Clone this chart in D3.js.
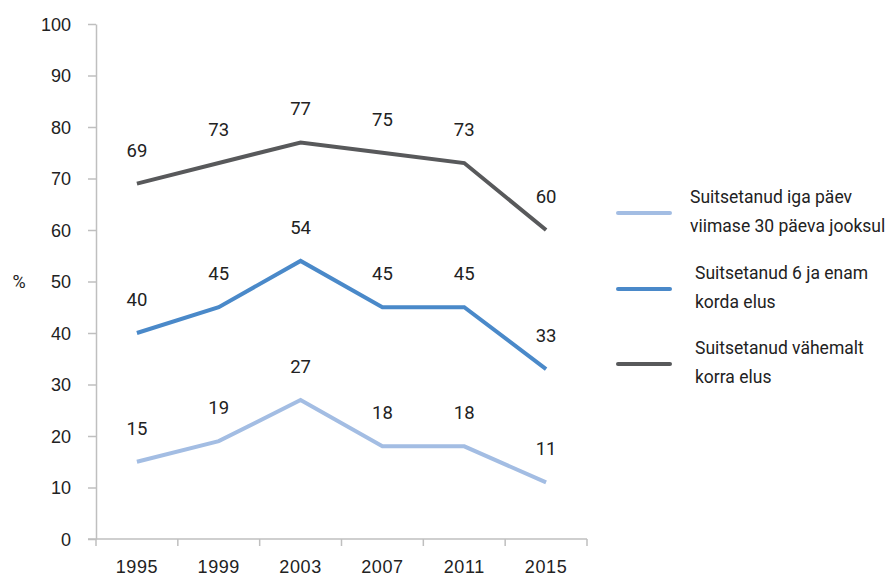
<!DOCTYPE html>
<html>
<head>
<meta charset="utf-8">
<script src="https://cdn.jsdelivr.net/npm/d3@7"></script>
<style>
  body { margin: 0; background: #fff; }
  svg { display: block; font-family: Roboto, "DejaVu Sans", sans-serif; }
  .axis text { fill: #222; font-size: 18px; }
  .x-axis text { letter-spacing: 0.6px; }
  .axis path, .axis line { stroke: #bfbfbf; stroke-width: 1.5; }
  .value-label { fill: #222; font-size: 18.5px; text-anchor: middle; }
  .legend-text { fill: #222; font-size: 17.5px; }
</style>
</head>
<body>
<svg id="chart" width="892" height="577"></svg>
<script>
// chart values
var years = ["1995", "1999", "2003", "2007", "2011", "2015"];
var dailyValues = [15, 19, 27, 18, 18, 11];
var sixTimesValues = [40, 45, 54, 45, 45, 33];
var everValues = [69, 73, 77, 75, 73, 60];
var yTicks = [0, 10, 20, 30, 40, 50, 60, 70, 80, 90, 100];
var seriesNames = [
  ["Suitsetanud iga päev", "viimase 30 päeva jooksul"],
  ["Suitsetanud 6 ja enam", "korda elus"],
  ["Suitsetanud vähemalt", "korra elus"]
];
var seriesColors = ["#a3bde3", "#4a89c9", "#58595b"];

var series = [dailyValues, sixTimesValues, everValues];

var svg = d3.select("#chart");
var margin = { left: 96, top: 24, right: 305, bottom: 38 };

var g = svg.append("g")
  .attr("transform", "translate(" + margin.left + "," + margin.top + ")");

// scales
var x = d3.scaleBand().domain(years).range([0, 491]);
var y = d3.scaleLinear().domain([0, 100]).range([515, 0]);

// y axis
var yAxis = g.append("g")
  .attr("class", "axis")
  .call(d3.axisLeft(y).tickValues(yTicks).tickSize(8).tickPadding(17).tickSizeOuter(0));
yAxis.selectAll("text").attr("dy", "0.35em");

// x axis with ticks on band boundaries
var xAxis = g.append("g")
  .attr("class", "axis x-axis")
  .attr("transform", "translate(0," + y(0) + ")")
  .call(d3.axisBottom(x).tickSize(0).tickPadding(21).tickSizeOuter(0));
xAxis.select(".domain").attr("d", "M-8,0H" + x.range()[1]);
xAxis.selectAll(".bound")
  .data([0].concat(years.map(function(d) { return x(d) + x.bandwidth(); })))
  .enter().append("line")
  .attr("class", "bound")
  .attr("x1", function(d) { return d; })
  .attr("x2", function(d) { return d; })
  .attr("y1", 0)
  .attr("y2", 7);

// % label
svg.append("text")
  .attr("x", 19)
  .attr("y", 288)
  .attr("text-anchor", "middle")
  .attr("fill", "#222")
  .attr("font-size", 18)
  .text("%");

var line = d3.line()
  .x(function(d, i) { return x(years[i]) + x.bandwidth() / 2; })
  .y(function(d) { return y(d); });

series.forEach(function(vals, s) {
  g.append("path")
    .datum(vals)
    .attr("fill", "none")
    .attr("stroke", seriesColors[s])
    .attr("stroke-width", 4)
    .attr("stroke-linejoin", "miter")
    .attr("d", line);

  g.selectAll(".lbl" + s)
    .data(vals)
    .enter().append("text")
    .attr("class", "value-label")
    .attr("x", function(d, i) { return x(years[i]) + x.bandwidth() / 2; })
    .attr("y", function(d) { return y(d) - 27; })
    .text(function(d) { return d; });
});

// legend
var legendY = [213, 289, 364];
var legendTextX = [690, 695, 695];
seriesNames.forEach(function(lines, s) {
  svg.append("line")
    .attr("x1", 618).attr("x2", 670)
    .attr("y1", legendY[s]).attr("y2", legendY[s])
    .attr("stroke", seriesColors[s])
    .attr("stroke-width", 4)
    .attr("stroke-linecap", "round");
  var t = svg.append("text")
    .attr("class", "legend-text")
    .attr("x", legendTextX[s])
    .attr("y", legendY[s] - 10);
  lines.forEach(function(l, k) {
    t.append("tspan")
      .attr("x", legendTextX[s])
      .attr("dy", k === 0 ? 0 : 29)
      .text(l);
  });
});
</script>
</body>
</html>
